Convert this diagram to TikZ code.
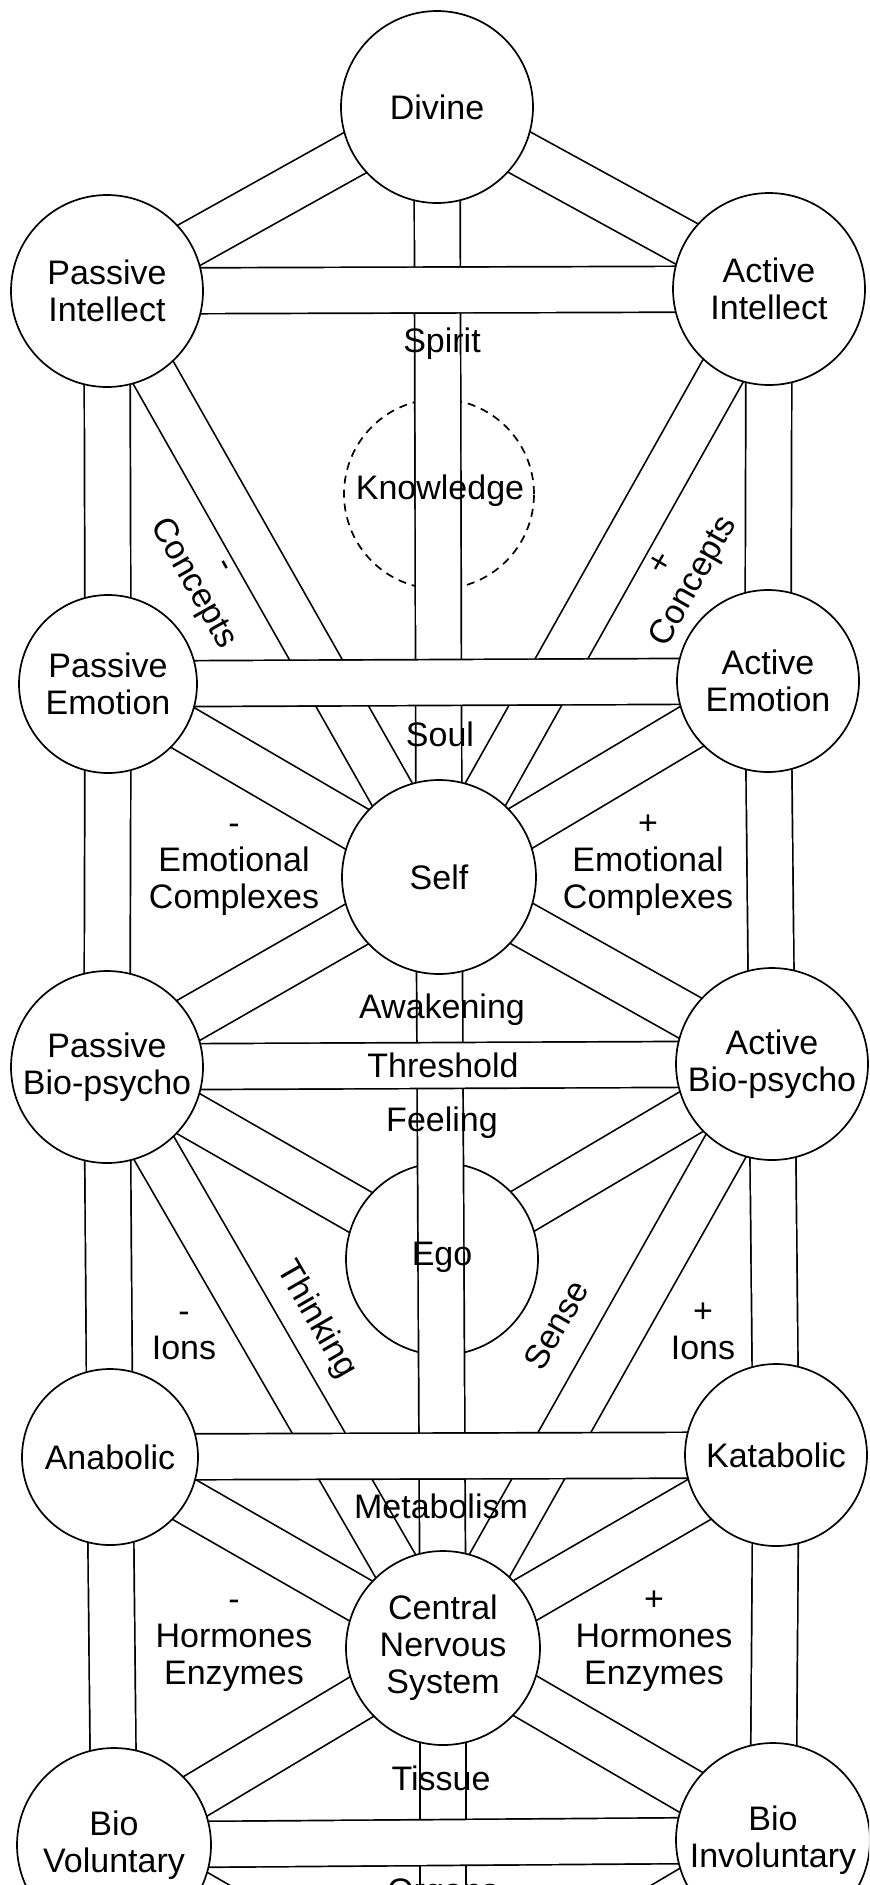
\documentclass[tikz,border=0pt]{standalone}
\usepackage{fontspec}
\setmainfont{Liberation Sans}

\pgfdeclarelayer{paths}
\pgfdeclarelayer{hollow}
\pgfdeclarelayer{trunk}
\pgfdeclarelayer{rungs}
\pgfsetlayers{paths,hollow,trunk,rungs,main}

\tikzset{
	sphere/.style={circle, draw, fill=white, line width=0.85pt, inner sep=0pt, align=center, minimum size=#1},
	sphere/.default=96pt,
	band/.style={line width=0.85pt, double=white, double distance=22.1pt},
	tag/.style={align=center},
}

\begin{document}
\begin{tikzpicture}[x=0.5pt, y=-0.5pt, font=\fontsize{17}{18.5}\selectfont]

		\useasboundingbox (0,0) rectangle (869,1885);
		\clip (0,0) rectangle (869,1885);

		% spheres
		\node[sphere] (divine) at (437,107) {Divine};
		\node[sphere] (pint) at (107,291) {Passive\\Intellect};
		\node[sphere] (aint) at (769,289) {Active\\Intellect};
		\node[sphere=89pt] (pemo) at (108,684) {Passive\\Emotion};
		\node[sphere=91pt] (aemo) at (768,681) {Active\\Emotion};
		\node[sphere=97pt] (self) at (439,877) {Self};
		\node[sphere] (pbio) at (107,1067) {Passive\\Bio-psycho};
		\node[sphere] (abio) at (772,1064) {Active\\Bio-psycho};
		\node[sphere=88pt] (ana) at (110,1457) {Anabolic};
		\node[sphere=91pt] (kata) at (776,1455) {Katabolic};
		\node[sphere=97pt] (cns) at (443,1648) {Central\\Nervous\\System};
		\node[sphere=97pt] (bvol) at (114,1845) {Bio\\Voluntary};
		\node[sphere=97pt] (binv) at (773,1840) {Bio\\Involuntary};
		\coordinate (base) at (443,2035);

		\begin{pgfonlayer}{hollow}
			\node[sphere=95pt, dash pattern=on 4pt off 3pt] (know) at (439,494) {};
			\node[sphere] (ego) at (442,1259) {};
		\end{pgfonlayer}

		% paths
		\begin{pgfonlayer}{paths}
			\foreach \a/\b in {divine/pint, divine/aint, pint/pemo, pemo/pbio, pbio/ana, ana/bvol,
					aint/aemo, aemo/abio, abio/kata, kata/binv, pint/self, aint/self, pemo/self, aemo/self,
					pbio/self, abio/self, pbio/ego, abio/ego, pbio/cns, abio/cns, ana/cns, kata/cns,
					bvol/cns, binv/cns, bvol/base, binv/base}
				\draw[band] (\a.center) -- (\b.center);
		\end{pgfonlayer}
		\begin{pgfonlayer}{trunk}
			\foreach \a/\b in {divine/self, self/cns, cns/base}
				\draw[band] (\a.center) -- (\b.center);
		\end{pgfonlayer}
		\begin{pgfonlayer}{rungs}
			\foreach \a/\b in {pint/aint, pemo/aemo, pbio/abio, ana/kata, bvol/binv}
				\draw[band] (\a.center) -- (\b.center);
		\end{pgfonlayer}

		% labels
		\node (spirit) at (442,344) {Spirit};
		\node (knowtext) at (440,491) {Knowledge};
		\node (soul) at (440,734) {Soul};
		\node (awake) at (442,1010) {Awakening};
		\node (thresh) at (443,1065) {Threshold};
		\node (feel) at (442,1123) {Feeling};
		\node (egotext) at (442,1257) {Ego};
		\node (metab) at (441,1506) {Metabolism};
		\node (tissue) at (441,1778) {Tissue};
		\node[anchor=base] (organs) at (443,1902) {Organs};

		\node[tag, rotate=-60.5] (conminus) at (203,578) {-\\Concepts};
		\node[tag, rotate=60.5] (conplus) at (680,574) {+\\Concepts};
		\node[tag] (emominus) at (234,870) {-\\Emotional\\Complexes};
		\node[tag] (emoplus) at (648,865) {+\\Emotional\\Complexes};
		\node[rotate=-60] (think) at (316,1320) {Thinking};
		\node[rotate=60] (sense) at (556,1325) {Sense};
		\node[tag] (ionminus) at (184,1336) {-\\Ions};
		\node[tag] (ionplus) at (703,1331) {+\\Ions};
		\node[tag] (hormminus) at (234,1646) {-\\Hormones\\Enzymes};
		\node[tag] (hormplus) at (654,1641) {+\\Hormones\\Enzymes};

\end{tikzpicture}
\end{document}
